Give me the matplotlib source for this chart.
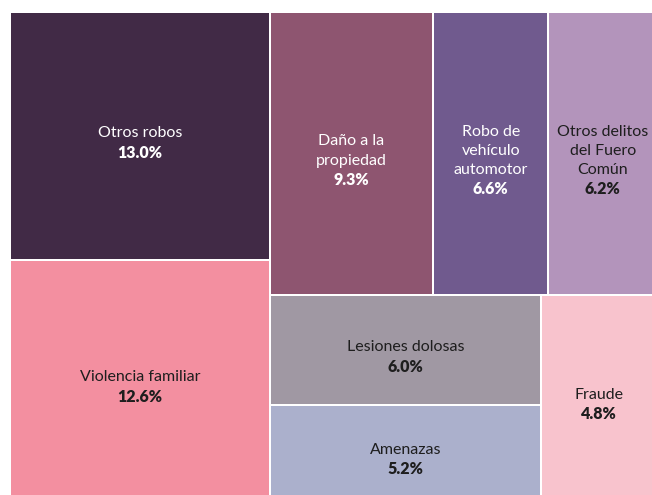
import math
import matplotlib
matplotlib.use("Agg")
import matplotlib.pyplot as plt
from matplotlib.patches import Rectangle

plt.rcParams["font.family"] = ["Lato", "DejaVu Sans"]

# Crime categories (share of total reports, %)
labels = [
    "Otros robos",
    "Violencia familiar",
    "Daño a la\npropiedad",
    "Robo de\nvehículo\nautomotor",
    "Otros delitos\ndel Fuero\nComún",
    "Lesiones dolosas",
    "Amenazas",
    "Fraude",
]
values = [13.0, 12.6, 9.3, 6.6, 6.2, 6.0, 5.2, 4.8]
colors = ["#412a46", "#f38fa0", "#8e5570", "#705a8e",
          "#b394bb", "#a098a3", "#abb0cc", "#f8c3cd"]
text_colors = ["white", "#1e1e1e", "white", "white",
               "#1e1e1e", "#1e1e1e", "#1e1e1e", "#1e1e1e"]

PHI = (1 + math.sqrt(5)) / 2


def squarify(vals, x0, y0, x1, y1, ratio=PHI):
    """Squarified treemap layout (golden-ratio variant)."""
    out = [None] * len(vals)
    total = sum(vals)
    i0 = i1 = 0
    n = len(vals)
    while i0 < n:
        dx, dy = x1 - x0, y1 - y0
        s = vals[i1]
        i1 += 1
        vmin = vmax = s
        alpha = max(dy / dx, dx / dy) / (total * ratio)
        beta = s * s * alpha
        min_ratio = max(vmax / beta, beta / vmin)
        while i1 < n:
            v = vals[i1]
            s2 = s + v
            nmin, nmax = min(vmin, v), max(vmax, v)
            beta = s2 * s2 * alpha
            r = max(nmax / beta, beta / nmin)
            if r > min_ratio:
                break
            s, vmin, vmax, min_ratio = s2, nmin, nmax, r
            i1 += 1
        row = list(range(i0, i1))
        if dx < dy:
            # horizontal row across the top
            ny = y0 + dy * s / total
            cx = x0
            for k in row:
                w = dx * vals[k] / s
                out[k] = (cx, y0, w, ny - y0)
                cx += w
            y0 = ny
        else:
            # vertical column on the left
            nx = x0 + dx * s / total
            cy = y0
            for k in row:
                h = dy * vals[k] / s
                out[k] = (x0, cy, nx - x0, h)
                cy += h
            x0 = nx
        total -= s
        i0 = i1
    return out


fig = plt.figure(figsize=(6.52, 4.95), dpi=100)
ax = fig.add_axes([0, 0, 1, 1])
ax.set_xlim(0, 652)
ax.set_ylim(495, 0)
ax.axis("off")

rects = squarify(values, 10, 12, 657, 500)
gap = 1.0
line_h = 19.3
for (x, y, w, h), lab, val, c, tc in zip(rects, labels, values, colors, text_colors):
    ax.add_patch(Rectangle((x + gap, y + gap), w - 2 * gap, h - 2 * gap,
                           facecolor=c, edgecolor="none"))
    lines = lab.split("\n") + [f"{val:.1f}%"]
    cx = x + w / 2
    cy = y + h / 2 + 7
    top = cy - len(lines) * line_h / 2
    for i, ln in enumerate(lines):
        is_pct = i == len(lines) - 1
        ax.text(cx, top + (i + 0.5) * line_h, ln, ha="center", va="center",
                fontsize=11.5, color=tc,
                fontweight="heavy" if is_pct else "normal")

fig.savefig("out.png", dpi=100, facecolor="white")
